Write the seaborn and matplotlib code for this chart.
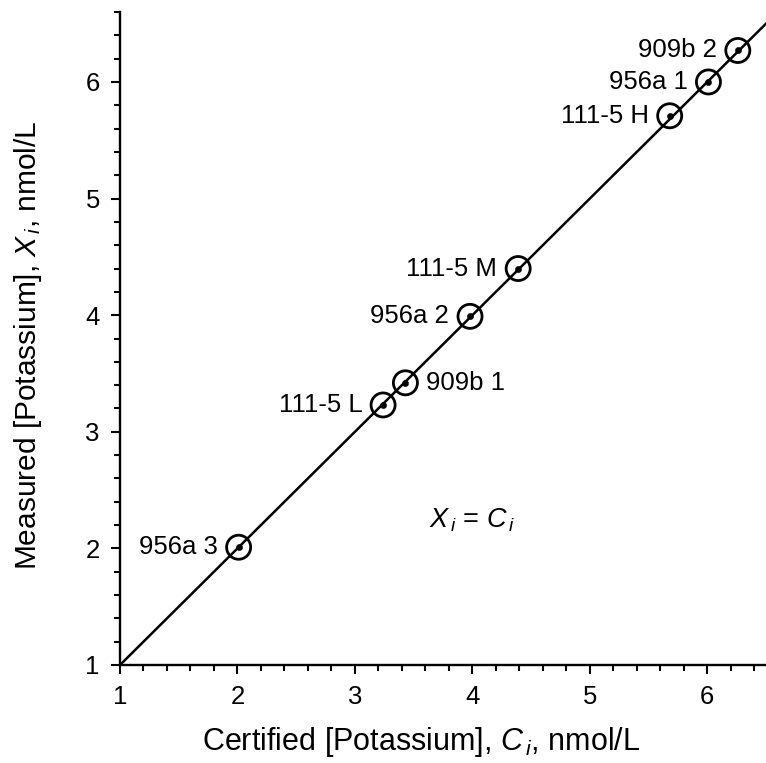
import numpy as np
import pandas as pd
import seaborn as sns
import matplotlib.pyplot as plt
from matplotlib.ticker import MultipleLocator

# Dados
amostras = ["956a 3", "111-5 L", "909b 1", "956a 2", "111-5 M", "111-5 H", "956a 1", "909b 2"]
certificado = [2.01, 3.24, 3.43, 3.98, 4.39, 5.68, 6.01, 6.26]
medido = [2.01, 3.23, 3.42, 3.99, 4.40, 5.71, 6.00, 6.27]
lado_rotulo = ["left", "left", "right", "left", "left", "left", "left", "left"]
linha_x = [1.0, 6.7]
linha_y = [1.0, 6.7]

df = pd.DataFrame({"C": certificado, "X": medido, "nome": amostras, "lado": lado_rotulo})
df_linha = pd.DataFrame({"x": linha_x, "y": linha_y})

sns.set_style("ticks")
plt.rcParams["font.family"] = ["Liberation Sans", "DejaVu Sans"]
plt.rcParams["text.color"] = "black"
plt.rcParams["axes.labelcolor"] = "black"
plt.rcParams["xtick.color"] = "black"
plt.rcParams["ytick.color"] = "black"
plt.rcParams["mathtext.fontset"] = "custom"
plt.rcParams["mathtext.rm"] = "Liberation Sans"
plt.rcParams["mathtext.it"] = "Liberation Sans:italic"

fig = plt.figure(figsize=(7.66, 7.63), dpi=100)
ax = fig.add_axes([120 / 766, 98 / 763, 646 / 766, 653 / 763])

# Linha X = C
sns.lineplot(data=df_linha, x="x", y="y", color="black", linewidth=1.8, ax=ax)

# Círculos abertos e pontos centrais
sns.scatterplot(data=df, x="C", y="X", s=300, facecolor="none", edgecolor="black",
                linewidth=2.0, ax=ax, zorder=3)
sns.scatterplot(data=df, x="C", y="X", s=20, color="black", edgecolor="black",
                marker="o", ax=ax, zorder=4)

for _, r in df.iterrows():
    if r["lado"] == "left":
        ax.annotate(r["nome"], (r["C"], r["X"]), xytext=(-15, 0), textcoords="offset points",
                    ha="right", va="center", fontsize=18.5)
    else:
        ax.annotate(r["nome"], (r["C"], r["X"]), xytext=(15, 0), textcoords="offset points",
                    ha="left", va="center", fontsize=18.5)

ax.text(4.0, 2.24, r"$X_{\,i}$ = $C_{\,i}$", ha="center", va="center", fontsize=19.5)

ax.set_xlim(1, 6.5)
ax.set_ylim(1, 6.6)
ax.xaxis.set_major_locator(MultipleLocator(1))
ax.xaxis.set_minor_locator(MultipleLocator(0.2))
ax.yaxis.set_major_locator(MultipleLocator(1))
ax.yaxis.set_minor_locator(MultipleLocator(0.2))
ax.tick_params(which="major", length=6.5, width=1.5, labelsize=18.5, pad=8)
ax.tick_params(which="minor", length=4.3, width=1.5)

ax.set_xlabel(r"Certified [Potassium], $C_{\,i}$, nmol/L", fontsize=22)
ax.set_ylabel(r"Measured [Potassium], $X_{\,i}$, nmol/L", fontsize=21.5)
ax.xaxis.set_label_coords(0.467, -0.092)
ax.yaxis.set_label_coords(-0.118, 0.49)

sns.despine(ax=ax)
for s in ["left", "bottom"]:
    ax.spines[s].set_linewidth(1.7)
    ax.spines[s].set_color("black")

fig.savefig("out.png", dpi=100)
